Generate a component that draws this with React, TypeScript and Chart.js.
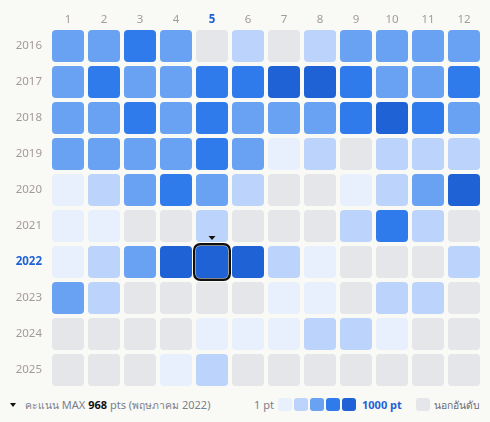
import React, { useEffect, useRef } from 'react';
import { Chart, registerables } from 'chart.js';

Chart.register(...registerables);

// ---- data ----
const months = ['1', '2', '3', '4', '5', '6', '7', '8', '9', '10', '11', '12'];
const years = ['2016', '2017', '2018', '2019', '2020', '2021', '2022', '2023', '2024', '2025'];

// monthly points (null = out of ranking)
const scores2016 = [430, 470, 720, 410, null, 240, null, 210, 460, 440, 480, 450];
const scores2017 = [460, 700, 420, 440, 730, 690, 900, 880, 710, 430, 410, 740];
const scores2018 = [450, 420, 710, 440, 700, 430, 450, 460, 720, 910, 700, 440];
const scores2019 = [440, 430, 410, 430, 720, 460, 70, 250, null, 230, 220, 260];
const scores2020 = [60, 230, 450, 690, 430, 250, null, null, 50, 240, 460, 890];
const scores2021 = [80, 40, null, null, 230, null, null, null, 200, 670, 220, null];
const scores2022 = [70, 240, 460, 920, 968, 870, 230, 60, null, null, null, 210];
const scores2023 = [470, 220, null, null, null, null, 50, 70, null, 240, 250, null];
const scores2024 = [null, null, null, null, 40, 60, 50, 230, 220, 80, null, null];
const scores2025 = [null, null, null, 30, 200, null, null, null, null, null, null, null];

const scoresByYear = [
  scores2016, scores2017, scores2018, scores2019, scores2020,
  scores2021, scores2022, scores2023, scores2024, scores2025,
];

const levelThresholds = [100, 300, 550, 800];
const levelColors = ['#E8EFFD', '#BCD3FB', '#6AA2F3', '#2F7BEC', '#1E62D6'];
const outColor = '#E5E6EA';

const maxScore = 968;
const maxYear = '2022';
const maxMonth = '5';
const maxMonthThai = 'พฤษภาคม';
const scoreLabelThai = 'คะแนน';
const legendMinLabel = '1 pt';
const legendMaxLabel = '1000 pt';
const outLabel = 'นอกอันดับ';

const LABEL_COLOR = '#a39a9d';
const HILITE_COLOR = '#1E62D6';
const BG = '#f9f9f6';
const FONT = "'Noto Sans', 'DejaVu Sans', sans-serif";

function colorFor(v: number | null): string {
  if (v === null || v === undefined) return outColor;
  let lvl = 0;
  while (lvl < levelThresholds.length && v > levelThresholds[lvl]) lvl++;
  return levelColors[lvl];
}

const HALF = 16 / 36;

const highlightPlugin = {
  id: 'highlightMax',
  afterDatasetsDraw(chart: any) {
    const yi = years.indexOf(maxYear);
    const mi = months.indexOf(maxMonth);
    const el = chart.getDatasetMeta(yi).data[mi];
    if (!el) return;
    const p = el.getProps(['x', 'y', 'base', 'width'], true);
    const left = p.x - p.width / 2;
    const top = Math.min(p.y, p.base);
    const bottom = Math.max(p.y, p.base);
    const ctx = chart.ctx;
    ctx.save();
    ctx.lineWidth = 2.4;
    ctx.strokeStyle = '#111111';
    ctx.beginPath();
    const off = 1.8;
    (ctx as any).roundRect(left - off, top - off, p.width + off * 2, bottom - top + off * 2, 6);
    ctx.stroke();
    ctx.fillStyle = '#111111';
    ctx.beginPath();
    ctx.moveTo(p.x - 3.5, top - 10);
    ctx.lineTo(p.x + 3.5, top - 10);
    ctx.lineTo(p.x, top - 6);
    ctx.closePath();
    ctx.fill();
    ctx.restore();
  },
};

export default function App() {
  const ref = useRef<HTMLCanvasElement | null>(null);

  useEffect(() => {
    document.body.style.margin = '0';
    const canvas = ref.current;
    if (!canvas) return;
    const datasets = years.map((yr, yi) => ({
      label: yr,
      data: months.map(() => [yi - HALF, yi + HALF]),
      backgroundColor: scoresByYear[yi].map((v) => colorFor(v)),
      borderWidth: 0,
      borderRadius: 4,
      borderSkipped: false,
      inflateAmount: 0,
      grouped: false,
      barPercentage: 32 / 36,
      categoryPercentage: 1,
    }));

    const chart = new Chart(canvas, {
      type: 'bar',
      data: { labels: months, datasets: datasets as any },
      options: {
        animation: false,
        responsive: false,
        maintainAspectRatio: false,
        layout: { padding: { left: 0, right: 8, top: 0, bottom: 7 } },
        plugins: { legend: { display: false }, tooltip: { enabled: false } },
        scales: {
          x: {
            position: 'top',
            grid: { display: false, drawTicks: false },
            border: { display: false },
            afterFit: (s: any) => {
              s.height = 28;
              s.paddingLeft = 0;
              s.paddingRight = 0;
            },
            ticks: {
              padding: 1.5,
              color: (c: any) => (months[c.index] === maxMonth ? HILITE_COLOR : LABEL_COLOR),
              font: (c: any) => ({
                family: FONT,
                size: 11.5,
                weight: months[c.index] === maxMonth ? 'bold' : 'normal',
              }),
            },
          },
          y: {
            type: 'linear',
            min: -0.5,
            max: years.length - 0.5,
            reverse: true,
            grid: { display: false, drawTicks: false },
            border: { display: false },
            afterFit: (s: any) => {
              s.width = 50;
              s.paddingTop = 0;
              s.paddingBottom = 0;
            },
            afterBuildTicks: (s: any) => { s.ticks = years.map((_, i) => ({ value: i })); },
            ticks: {
              padding: 8,
              autoSkip: false,
              callback: (v: any) => years[Math.round(Number(v))] ?? '',
              color: (c: any) => (years[Math.round(c.tick?.value)] === maxYear ? HILITE_COLOR : LABEL_COLOR),
              font: (c: any) => ({
                family: FONT,
                size: 11.5,
                weight: years[Math.round(c.tick?.value)] === maxYear ? 'bold' : 'normal',
              }),
            },
          },
        },
      } as any,
      plugins: [highlightPlugin],
    });
    return () => chart.destroy();
  }, []);

  const textStyle: React.CSSProperties = {
    position: 'absolute',
    top: 397,
    height: 16,
    lineHeight: '16px',
    fontFamily: FONT,
    fontSize: 11,
    whiteSpace: 'nowrap',
  };
  const thai: React.CSSProperties = { fontSize: 10.3 };
  const swatch = (left: number, color: string): React.CSSProperties => ({
    position: 'absolute',
    left,
    top: 398,
    width: 14,
    height: 13,
    borderRadius: 3,
    background: color,
  });

  return (
    <div style={{ position: 'absolute', left: 0, top: 0, width: 490, height: 422, background: BG, overflow: 'hidden' }}>
      <canvas ref={ref} width={490} height={395} style={{ position: 'absolute', left: 0, top: 0, width: 490, height: 395 }} />
      <div
        style={{
          position: 'absolute', left: 10, top: 403, width: 0, height: 0,
          borderLeft: '3.5px solid transparent', borderRight: '3.5px solid transparent', borderTop: '4px solid #111',
        }}
      />
      <div style={{ ...textStyle, left: 25, color: '#7a7f8c' }}>
        <span style={thai}>{scoreLabelThai}</span> MAX <b style={{ color: '#111' }}>{maxScore}</b> pts (
        <span style={thai}>{maxMonthThai}</span> {maxYear})
      </div>
      <div style={{ ...textStyle, left: 254, color: '#7a7f8c' }}>{legendMinLabel}</div>
      {levelColors.map((c, i) => (
        <div key={c} style={swatch(278 + i * 16, c)} />
      ))}
      <div style={{ ...textStyle, left: 362, color: HILITE_COLOR, fontWeight: 'bold' }}>{legendMaxLabel}</div>
      <div style={swatch(416, outColor)} />
      <div style={{ ...textStyle, left: 434, color: '#686b75' }}>
        <span style={thai}>{outLabel}</span>
      </div>
    </div>
  );
}
